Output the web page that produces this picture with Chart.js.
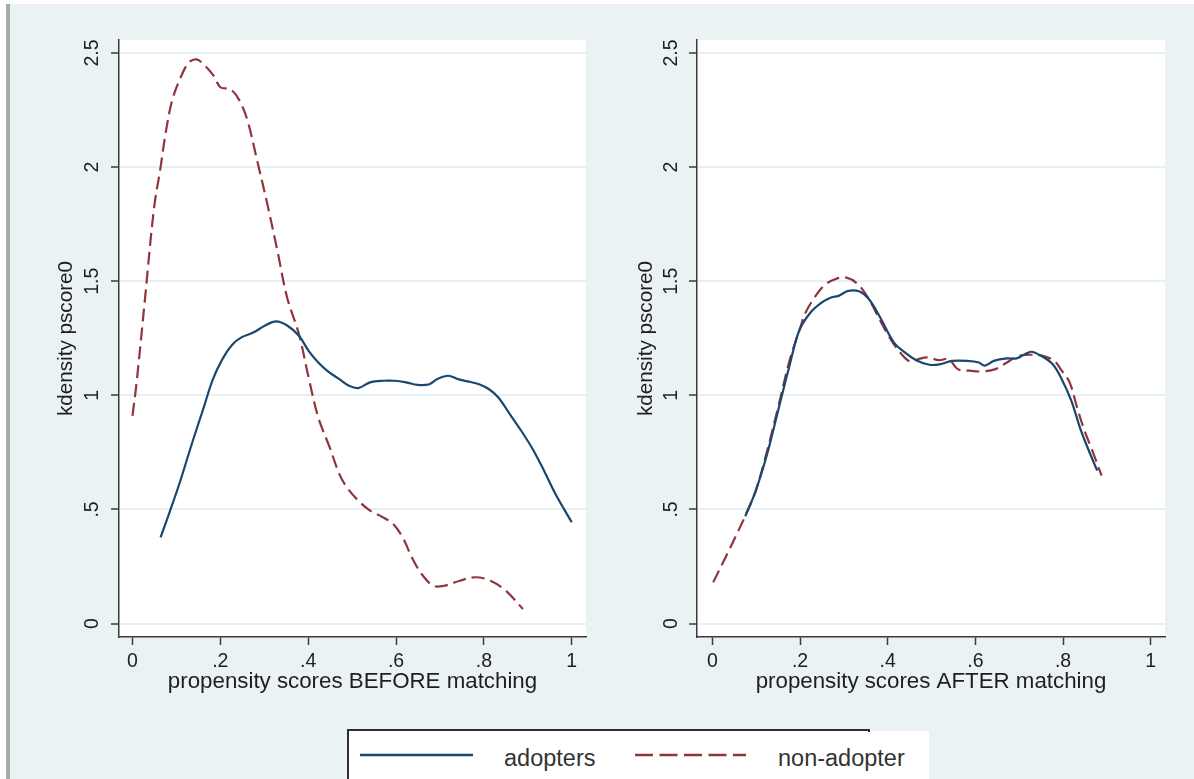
<!DOCTYPE html>
<html>
<head>
<meta charset="utf-8">
<script src="https://cdn.jsdelivr.net/npm/chart.js@4.4.1/dist/chart.umd.min.js"></script>
<style>
  html, body { margin: 0; padding: 0; background: #fff; }
  #page { position: relative; width: 1194px; height: 779px; overflow: hidden; background: #fff; }
  #bg { position: absolute; left: 10px; top: 4px; width: 1184px; height: 775px; background: #eaf2f3; }
  #edge { position: absolute; left: 6px; top: 4px; width: 4px; height: 775px; background: #a9a9a9; }
  canvas { position: absolute; top: 0; }
  #leftChart { left: 10px; }
  #rightChart { left: 588px; }
  #legend { position: absolute; left: 0; top: 0; }
</style>
</head>
<body>
<div id="page">
  <div id="bg"></div>
  <div id="edge"></div>
  <canvas id="leftChart" width="590" height="700"></canvas>
  <canvas id="rightChart" width="606" height="700"></canvas>
  <svg id="legend" width="1194" height="779"></svg>
</div>

<script>
  // series names and axis text
  const seriesNames = ['adopters', 'non-adopter'];
  const yTitle = 'kdensity pscore0';
  const xTitles = ['propensity scores BEFORE matching', 'propensity scores AFTER matching'];

  // tick values and their labels
  const xTicks = [0, 0.2, 0.4, 0.6, 0.8, 1];
  const xTickLabels = ['0', '.2', '.4', '.6', '.8', '1'];
  const yTicks = [0, 0.5, 1, 1.5, 2, 2.5];
  const yTickLabels = ['0', '.5', '1', '1.5', '2', '2.5'];

  // BEFORE matching - adopters
  const beforeAdoptersX = [0.064, 0.083, 0.109, 0.135, 0.161, 0.183, 0.205, 0.227, 0.248, 0.275, 0.301, 0.327, 0.353, 0.379, 0.401, 0.423, 0.445, 0.471, 0.493, 0.514, 0.541, 0.571, 0.597, 0.623, 0.649, 0.676, 0.693, 0.719, 0.741, 0.763, 0.789, 0.811, 0.833, 0.859, 0.885, 0.911, 0.937, 0.963, 1.0];
  const beforeAdoptersY = [0.378, 0.48, 0.626, 0.787, 0.94, 1.07, 1.16, 1.222, 1.254, 1.275, 1.305, 1.324, 1.305, 1.261, 1.195, 1.144, 1.105, 1.071, 1.042, 1.032, 1.057, 1.064, 1.064, 1.057, 1.046, 1.049, 1.071, 1.086, 1.071, 1.061, 1.049, 1.028, 0.991, 0.918, 0.845, 0.765, 0.67, 0.568, 0.444];

  // BEFORE matching - non-adopters
  const beforeNonX = [0, 0.009, 0.028, 0.049, 0.064, 0.075, 0.09, 0.109, 0.128, 0.146, 0.162, 0.185, 0.2, 0.223, 0.242, 0.261, 0.284, 0.307, 0.33, 0.352, 0.379, 0.401, 0.423, 0.449, 0.471, 0.488, 0.514, 0.541, 0.571, 0.593, 0.615, 0.636, 0.658, 0.685, 0.71, 0.745, 0.78, 0.815, 0.85, 0.889];
  const beforeNonY = [0.91, 1.05, 1.414, 1.82, 2.0, 2.144, 2.29, 2.39, 2.458, 2.472, 2.45, 2.4, 2.35, 2.341, 2.297, 2.21, 2.027, 1.838, 1.633, 1.429, 1.268, 1.078, 0.903, 0.772, 0.655, 0.597, 0.539, 0.495, 0.465, 0.437, 0.378, 0.29, 0.218, 0.166, 0.166, 0.188, 0.203, 0.188, 0.144, 0.064];

  // AFTER matching - adopters
  const afterAdoptersX = [0.075, 0.099, 0.125, 0.15, 0.176, 0.198, 0.224, 0.25, 0.271, 0.288, 0.31, 0.336, 0.357, 0.383, 0.414, 0.439, 0.465, 0.495, 0.521, 0.547, 0.582, 0.608, 0.621, 0.642, 0.672, 0.694, 0.711, 0.728, 0.75, 0.776, 0.797, 0.819, 0.841, 0.862, 0.878];
  const afterAdoptersY = [0.47, 0.582, 0.743, 0.933, 1.13, 1.283, 1.363, 1.407, 1.429, 1.436, 1.458, 1.455, 1.422, 1.341, 1.232, 1.188, 1.154, 1.134, 1.137, 1.151, 1.151, 1.144, 1.13, 1.151, 1.162, 1.162, 1.178, 1.191, 1.173, 1.137, 1.071, 0.976, 0.845, 0.743, 0.67];

  // AFTER matching - non-adopters
  const afterNonX = [0.002, 0.03, 0.056, 0.077, 0.099, 0.125, 0.15, 0.176, 0.202, 0.211, 0.228, 0.254, 0.28, 0.306, 0.332, 0.357, 0.383, 0.409, 0.435, 0.452, 0.47, 0.491, 0.517, 0.539, 0.56, 0.586, 0.616, 0.646, 0.672, 0.698, 0.728, 0.754, 0.78, 0.797, 0.815, 0.832, 0.849, 0.867, 0.888];
  const afterNonY = [0.181, 0.29, 0.393, 0.48, 0.582, 0.757, 0.947, 1.151, 1.305, 1.356, 1.414, 1.48, 1.509, 1.516, 1.487, 1.422, 1.327, 1.239, 1.173, 1.148, 1.159, 1.166, 1.154, 1.159, 1.115, 1.108, 1.105, 1.115, 1.144, 1.173, 1.178, 1.173, 1.151, 1.108, 1.057, 0.947, 0.845, 0.757, 0.648];

  // colours (Stata s2color look)
  const navy = '#1a476f';
  const maroon = '#90353b';
  const axisColor = '#3a3a3a';
  const textColor = '#1e1e1e';
  const gridColor = '#e6eff1';
  const fontFamily = "'Liberation Sans', Arial, sans-serif";
  const plotDash = [13, 6];

  function toPoints(xs, ys) {
    return xs.map((x, i) => ({ x: x, y: ys[i] }));
  }

  // white plot region behind the curves
  const plotBackground = {
    id: 'plotBackground',
    beforeDraw(chart) {
      const { ctx, chartArea: a } = chart;
      ctx.save();
      ctx.fillStyle = '#ffffff';
      ctx.fillRect(a.left, a.top, a.right - a.left, a.bottom - a.top);
      ctx.restore();
    }
  };

  function makePanel(canvasId, adoptPts, nonPts, p) {
    const ctx = document.getElementById(canvasId).getContext('2d');
    return new Chart(ctx, {
      type: 'line',
      data: {
        datasets: [
          {
            label: seriesNames[0],
            data: adoptPts,
            borderColor: navy,
            borderWidth: 2.2,
            pointRadius: 0,
            fill: false,
            tension: 0.35
          },
          {
            label: seriesNames[1],
            data: nonPts,
            borderColor: maroon,
            borderWidth: 2.2,
            borderDash: plotDash,
            pointRadius: 0,
            fill: false,
            tension: 0.35
          }
        ]
      },
      options: {
        responsive: false,
        animation: false,
        devicePixelRatio: 1,
        layout: { padding: { top: 40, right: p.padRight, bottom: 0, left: 0 } },
        plugins: { legend: { display: false }, tooltip: { enabled: false } },
        scales: {
          x: {
            type: 'linear',
            min: p.xMin,
            max: p.xMax,
            afterBuildTicks: s => { s.ticks = xTicks.map(v => ({ value: v })); },
            afterFit: s => { s.height = 63; },
            grid: { drawOnChartArea: false, drawTicks: true, tickLength: 8, tickColor: axisColor, tickWidth: 1.5 },
            border: { display: true, color: axisColor, width: 1.5 },
            ticks: {
              padding: 5, color: textColor, autoSkip: false, maxRotation: 0,
              font: { family: fontFamily, size: 19.5 },
              callback: (v, i) => xTickLabels[i]
            },
            title: {
              display: true, text: p.xTitle, color: textColor,
              font: { family: fontFamily, size: 22.3 },
              padding: { top: 0, bottom: 4.7 }
            }
          },
          y: {
            type: 'linear',
            min: -0.0587,
            max: 2.557,
            afterBuildTicks: s => { s.ticks = yTicks.map(v => ({ value: v })); },
            afterFit: s => { s.width = 109; },
            grid: { color: gridColor, lineWidth: 2, drawTicks: true, tickLength: 8, tickColor: axisColor, tickWidth: 1.5 },
            border: { display: true, color: axisColor, width: 1.5 },
            ticks: {
              padding: p.yTickPad, color: textColor, autoSkip: false,
              minRotation: 90, maxRotation: 90, crossAlign: 'center',
              font: { family: fontFamily, size: 19.5 },
              callback: (v, i) => yTickLabels[i]
            },
            title: {
              display: true, text: yTitle, color: textColor,
              font: { family: fontFamily, size: 20.7 },
              padding: { top: p.yTitlePad, bottom: 0 }
            }
          }
        }
      },
      plugins: [plotBackground]
    });
  }

  makePanel('leftChart',
    toPoints(beforeAdoptersX, beforeAdoptersY),
    toPoints(beforeNonX, beforeNonY),
    { xMin: -0.0307, xMax: 1.0325, padRight: 14, xTitle: xTitles[0], yTickPad: 5.1, yTitlePad: 44.1 });

  makePanel('rightChart',
    toPoints(afterAdoptersX, afterAdoptersY),
    toPoints(afterNonX, afterNonY),
    { xMin: -0.035, xMax: 1.0326, padRight: 29, xTitle: xTitles[1], yTickPad: 3.4, yTitlePad: 46.3 });

  // legend at the bottom (box is clipped by the page edge like the original)
  const svg = document.getElementById('legend');
  const NS = 'http://www.w3.org/2000/svg';
  function addEl(tag, attrs, text) {
    const el = document.createElementNS(NS, tag);
    for (const k in attrs) el.setAttribute(k, attrs[k]);
    if (text) el.textContent = text;
    svg.appendChild(el);
    return el;
  }
  addEl('rect', { x: 349, y: 731, width: 580, height: 48, fill: '#ffffff' });
  addEl('path', { d: 'M348 779 V730 H869 V732', fill: 'none', stroke: '#2e2e2e', 'stroke-width': 2 });
  addEl('line', { x1: 360, y1: 755, x2: 473, y2: 755, stroke: navy, 'stroke-width': 2.5 });
  addEl('text', { x: 504, y: 766, 'font-family': fontFamily, 'font-size': 23.5, fill: '#333333' }, seriesNames[0]);
  addEl('line', { x1: 635, y1: 755, x2: 746, y2: 755, stroke: maroon, 'stroke-width': 2.5, 'stroke-dasharray': '18 6.5' });
  addEl('text', { x: 778, y: 766, 'font-family': fontFamily, 'font-size': 23.5, fill: '#333333' }, seriesNames[1]);
</script>
</body>
</html>
